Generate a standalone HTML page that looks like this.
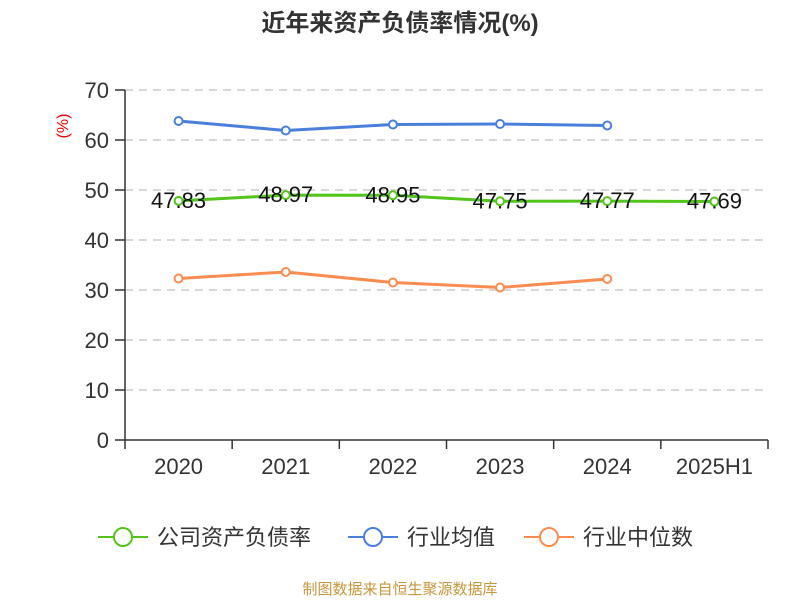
<!DOCTYPE html>
<html><head><meta charset="utf-8"><style>
body{margin:0;background:#fff;width:800px;height:600px;overflow:hidden;font-family:"Liberation Sans","Noto Sans CJK SC",sans-serif}
</style></head><body>
<svg id="c" width="800" height="600" xmlns="http://www.w3.org/2000/svg">
<text x="400" y="31" text-anchor="middle" font-size="24" font-weight="bold" fill="#333">近年来资产负债率情况(%)</text>
<text transform="translate(68,126) rotate(-90)" text-anchor="middle" font-size="16" fill="#e00">(%)</text>
<g id="grid"></g><g id="axes"></g><g id="series"></g>
<g>
<g><line x1="98" y1="537" x2="148" y2="537" stroke="#52c41a" stroke-width="2"/><circle cx="123" cy="537" r="9" fill="#fff" stroke="#52c41a" stroke-width="2"/><text x="157" y="545" font-size="22" fill="#333">公司资产负债率</text></g>
<g><line x1="348" y1="537" x2="398" y2="537" stroke="#4a7fdc" stroke-width="2"/><circle cx="373" cy="537" r="9" fill="#fff" stroke="#4a7fdc" stroke-width="2"/><text x="407" y="545" font-size="22" fill="#333">行业均值</text></g>
<g><line x1="524" y1="537" x2="574" y2="537" stroke="#fa8c50" stroke-width="2"/><circle cx="549" cy="537" r="9" fill="#fff" stroke="#fa8c50" stroke-width="2"/><text x="583" y="545" font-size="22" fill="#333">行业中位数</text></g>
</g>
<text x="400" y="594" text-anchor="middle" font-size="15" fill="#c8963c">制图数据来自恒生聚源数据库</text>
</svg>
<script>
const categories=["2020","2021","2022","2023","2024","2025H1"];
const companyValues=[47.83,48.97,48.95,47.75,47.77,47.69];
const industryAvg=[63.8,61.9,63.1,63.2,62.9];
const industryMedian=[32.3,33.6,31.5,30.5,32.2];
const yTicks=[0,10,20,30,40,50,60,70];
const NS="http://www.w3.org/2000/svg";
const x0=125,x1=768,yB=440,yT=90;
const bw=(x1-x0)/categories.length;
const X=i=>x0+bw*(i+0.5);
const Y=v=>yB-(v/70)*(yB-yT);
function mk(t,a,p){const e=document.createElementNS(NS,t);for(const k in a)e.setAttribute(k,a[k]);p.appendChild(e);return e;}
const g=document.getElementById('grid'),ax=document.getElementById('axes'),s=document.getElementById('series');
yTicks.forEach(v=>{
 if(v>0){const l=mk('line',{x1:x0,x2:x1,y1:Y(v),y2:Y(v),stroke:'#ccc','stroke-width':1.5,'stroke-dasharray':'8,6'},g);
 
 }
 const tk=mk('line',{x1:x0-10,x2:x0,y1:Y(v),y2:Y(v),stroke:'#333','stroke-width':1.5},ax);
 
 
 const t=mk('text',{x:x0-16,y:Y(v)+8,'text-anchor':'end','font-size':22,fill:'#333'},ax);t.textContent=v;
 
 
});
const ya=mk('line',{x1:x0,x2:x0,y1:yT,y2:yB,stroke:'#333','stroke-width':1.5},ax);


const xa=mk('line',{x1:x0,x2:x1,y1:yB,y2:yB,stroke:'#333','stroke-width':1.5},ax);


for(let i=0;i<=categories.length;i++){const tk=mk('line',{x1:x0+bw*i,x2:x0+bw*i,y1:yB,y2:yB+9,stroke:'#333','stroke-width':1.5},ax);
 
 }
categories.forEach((c,i)=>{const t=mk('text',{x:X(i),y:yB+34,'text-anchor':'middle','font-size':22,fill:'#333'},ax);t.textContent=c;
 
 });
function series(vals,color,name,labels){
 const gg=mk('g',{},s);
 
 
 const pl=mk('polyline',{points:vals.map((v,i)=>X(i)+','+Y(v)).join(' '),fill:'none',stroke:color,'stroke-width':3},gg);
 
 
 vals.forEach((v,i)=>{const c=mk('circle',{cx:X(i),cy:Y(v),r:4,fill:'#fff',stroke:color,'stroke-width':2},gg);
  
  
  if(labels){const t=mk('text',{x:X(i),y:Y(v)+7,'text-anchor':'middle','font-size':22,fill:'#111'},gg);t.textContent=v.toFixed(2);
  
  }
 });
}
series(industryAvg,'#4a7fdc','industry-avg-series',false);
series(industryMedian,'#fa8c50','industry-median-series',false);
series(companyValues,'#52c41a','company-series',true);
</script>
</body></html>
